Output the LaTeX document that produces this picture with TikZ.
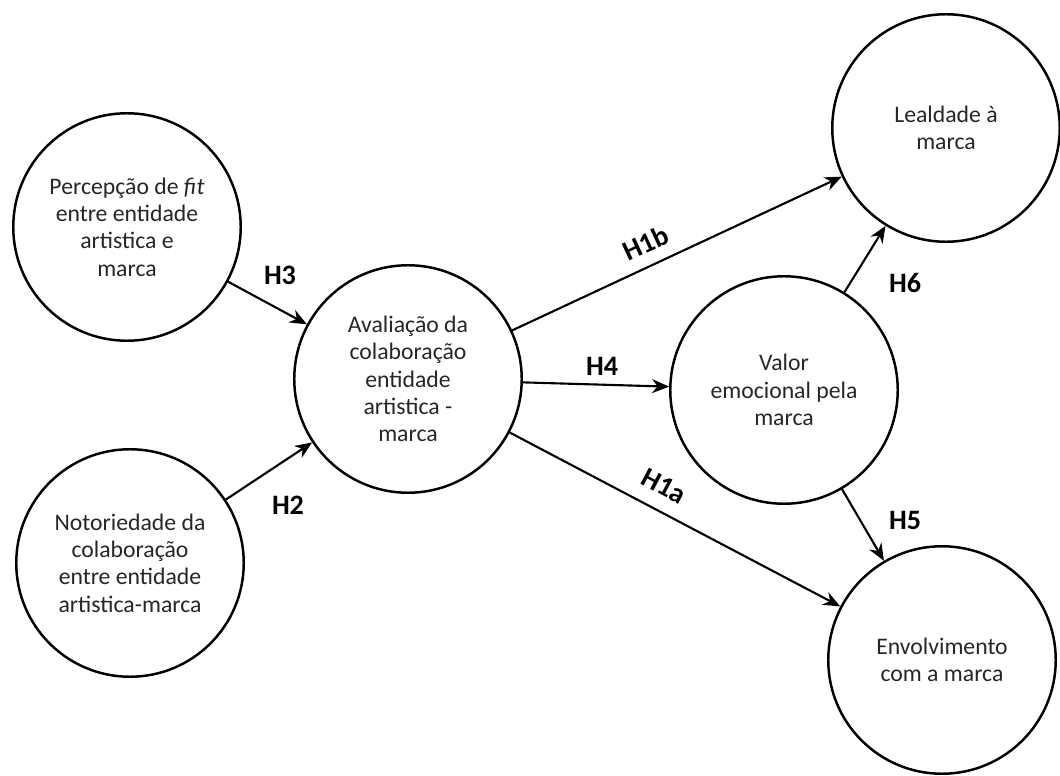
\documentclass[tikz,border=0pt]{standalone}
\usepackage{fontspec}
\setmainfont{Carlito}
\usetikzlibrary{arrows.meta}
\begin{document}
\begin{tikzpicture}[x=0.2mm,y=-0.2mm,>={Stealth[length=3.4mm,width=2.8mm]},
  font=\fontsize{13.5}{15.5}\selectfont, line join=round, line cap=round,
  var/.style={draw,circle,line width=1.4pt,minimum size=45.5mm,inner sep=0pt,align=center,text=black!85},
  hyp/.style={font=\fontsize{16}{18}\selectfont\bfseries}]
\useasboundingbox (0,0) rectangle (1060,776);
\node[var] (fit) at (127,227) {Percepção de \textit{fit}\\entre entidade\\artistica e\\marca};
\node[var] (noto) at (130,563) {Notoriedade da\\colaboração\\entre entidade\\artistica-marca};
\node[var] (aval) at (408,379) {Avaliação da\\colaboração\\entidade\\artistica -\\marca};
\node[var] (valor) at (784,390) {Valor\\emocional pela\\marca};
\node[var] (leal) at (946,128) {Lealdade à\\marca};
\node[var] (envol) at (942,660) {Envolvimento\\com a marca};
\foreach \a/\b in {fit/aval,noto/aval,aval/leal,aval/valor,aval/envol,valor/leal,valor/envol}
  \draw[->,line width=1.2pt] (\a)--(\b);
\node[hyp] (h3) at (280,275) {H3};
\node[hyp] (h2) at (288,505) {H2};
\node[hyp,rotate=25] (h1b) at (646,243) {H1b};
\node[hyp] (h4) at (602,366) {H4};
\node[hyp,rotate=-28] (h1a) at (664,486) {H1a};
\node[hyp] (h6) at (905,283) {H6};
\node[hyp] (h5) at (905,520) {H5};
\end{tikzpicture}
\end{document}
